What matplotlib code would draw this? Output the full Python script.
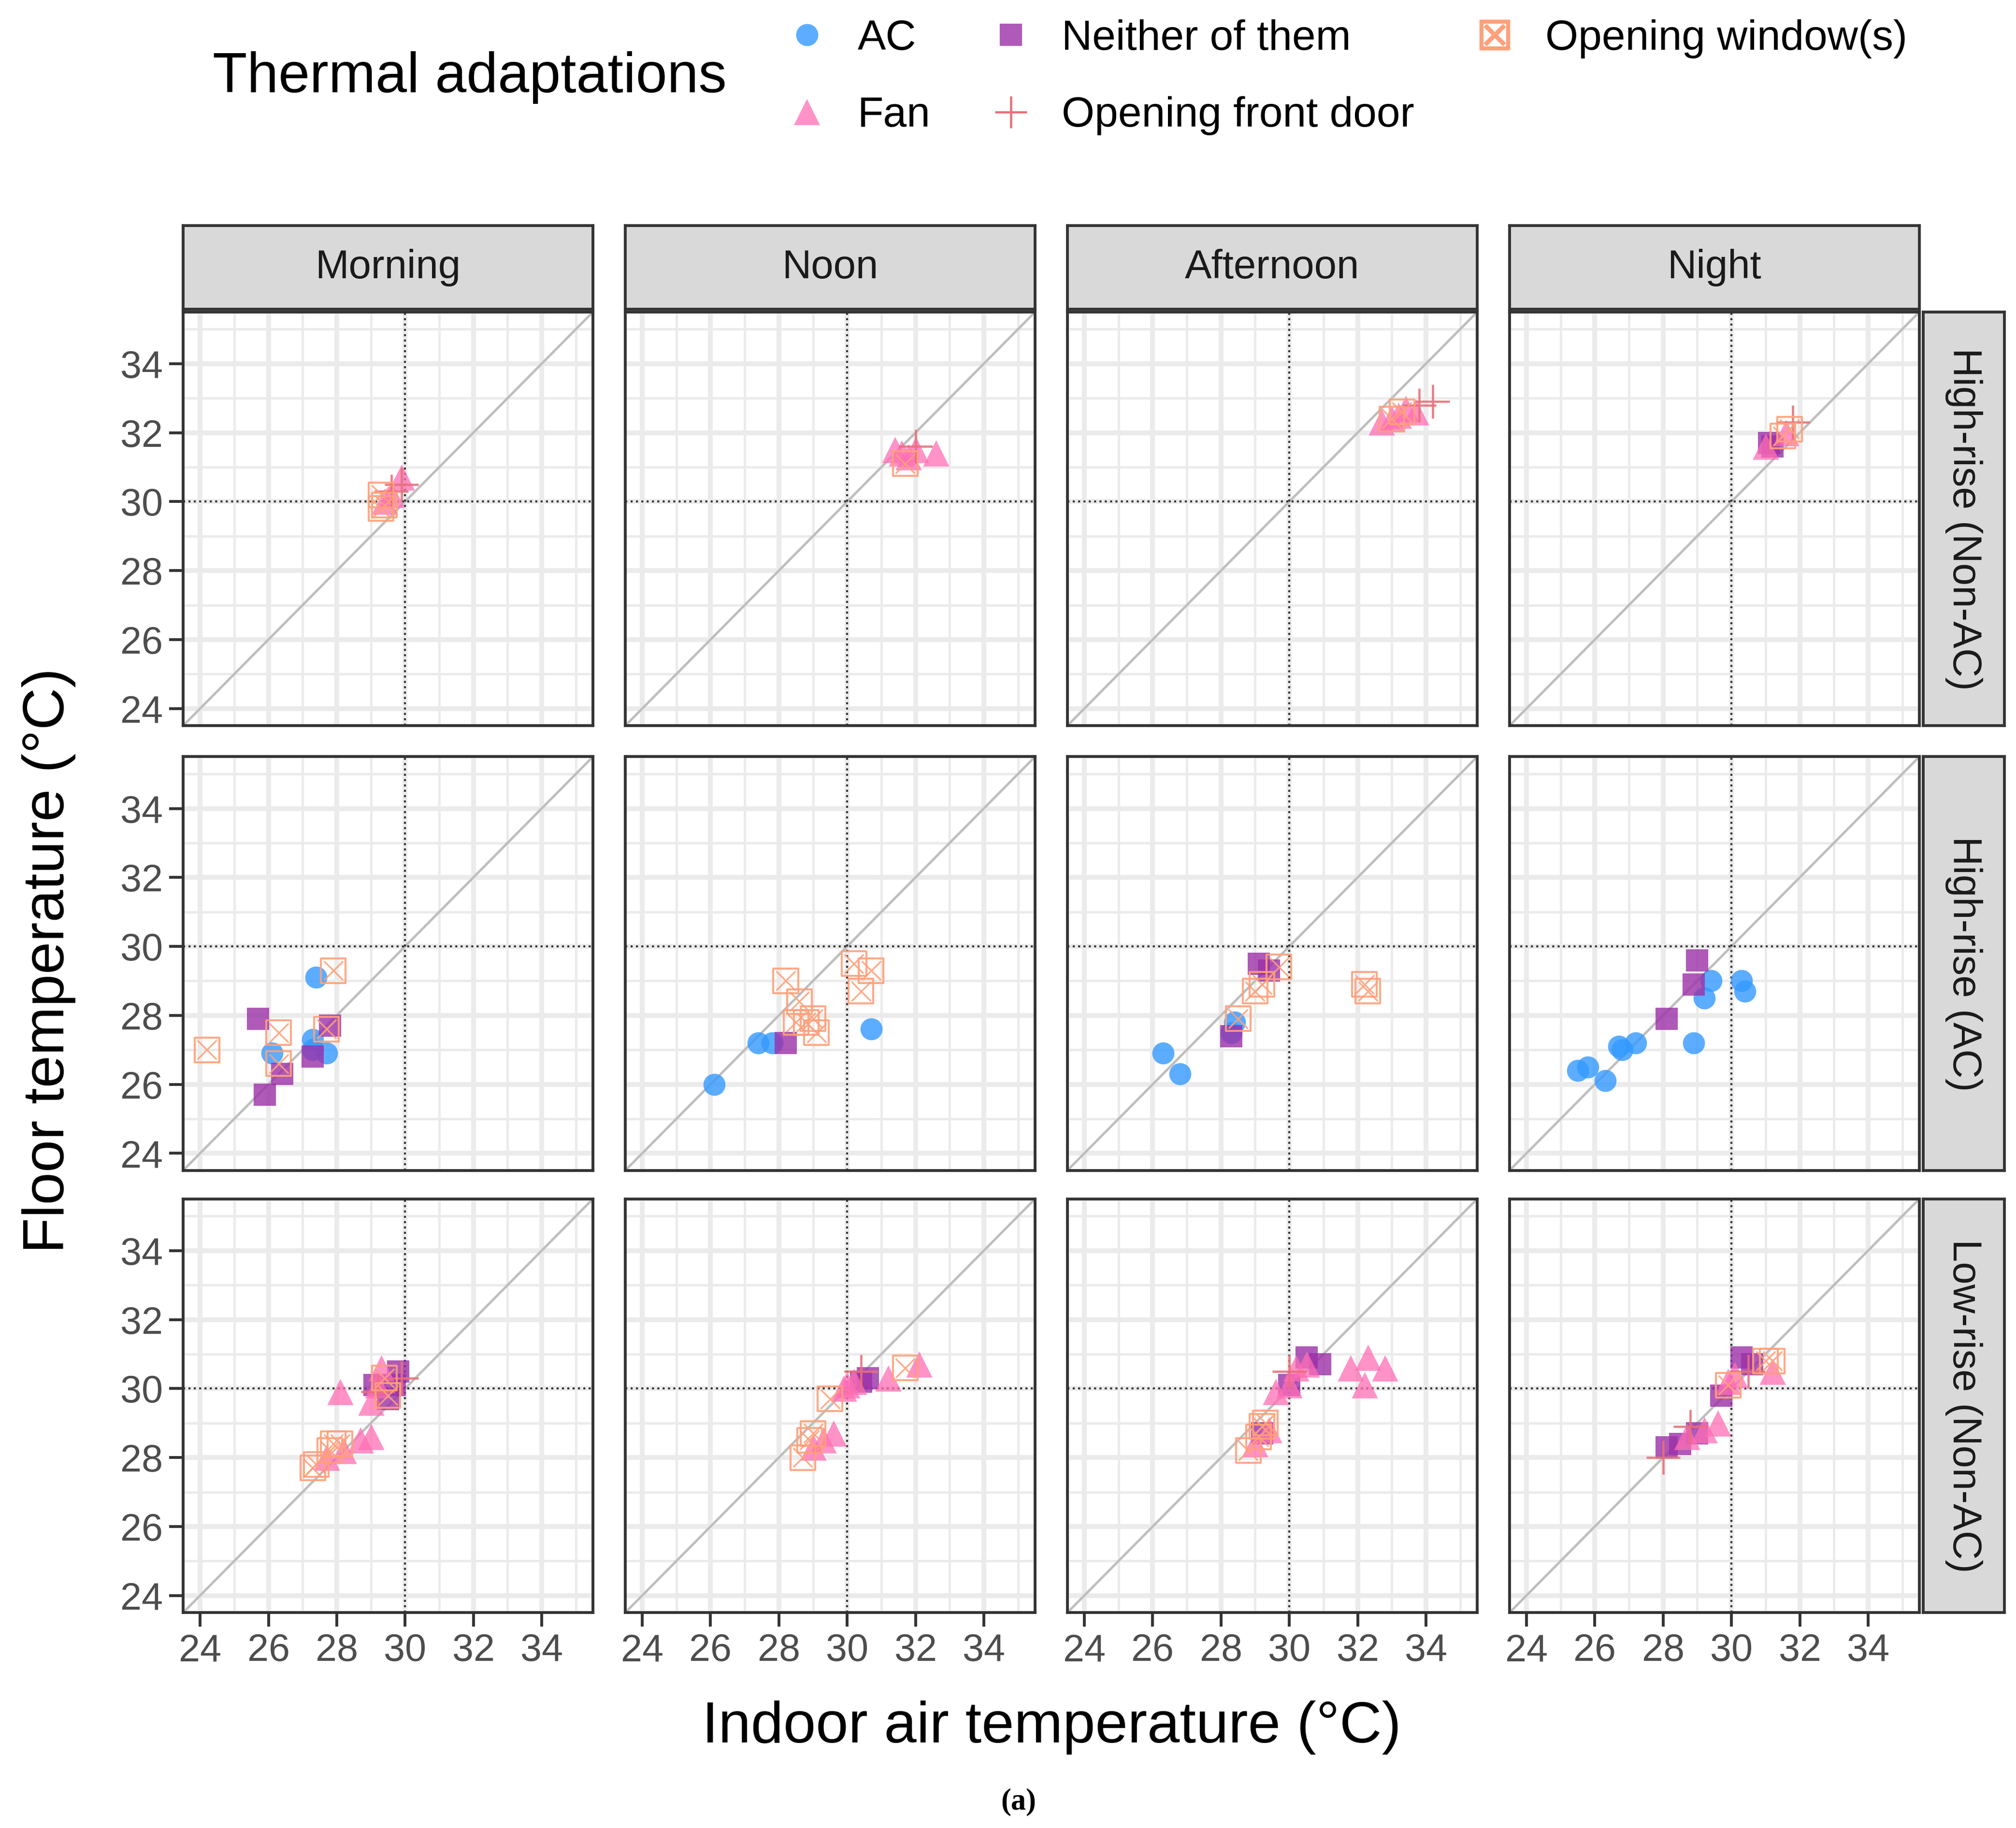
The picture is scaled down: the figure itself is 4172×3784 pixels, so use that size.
import numpy as np
import matplotlib
matplotlib.use("Agg")
import matplotlib.pyplot as plt
from matplotlib.lines import Line2D

plt.rcParams['font.family'] = ['Liberation Sans', 'DejaVu Sans']

periods = ['Morning', 'Noon', 'Afternoon', 'Night']
rows = ['High-rise (Non-AC)', 'High-rise (AC)', 'Low-rise (Non-AC)']

# (period, indoor air temp, floor temp)
hna_fan = [('Morning', 29.9, 30.7), ('Morning', 29.6, 30.2), ('Morning', 29.4, 30.0),
           ('Noon', 31.6, 31.4), ('Noon', 32.0, 31.5), ('Noon', 32.6, 31.4), ('Noon', 31.8, 31.3), ('Noon', 31.4, 31.5),
           ('Afternoon', 32.7, 32.3), ('Afternoon', 33.0, 32.4), ('Afternoon', 33.4, 32.7), ('Afternoon', 33.7, 32.6), ('Afternoon', 33.2, 32.5),
           ('Night', 31.0, 31.6), ('Night', 31.6, 32.0)]
hna_window = [('Morning', 29.3, 30.2), ('Morning', 29.4, 29.9), ('Morning', 29.3, 29.8),
              ('Noon', 31.7, 31.1),
              ('Afternoon', 33.0, 32.4), ('Afternoon', 33.3, 32.6),
              ('Night', 31.5, 31.9), ('Night', 31.7, 32.1)]
hna_door = [('Morning', 29.9, 30.5), ('Morning', 29.6, 30.3), ('Noon', 32.0, 31.6),
            ('Afternoon', 34.2, 32.9), ('Afternoon', 33.8, 32.8), ('Night', 31.8, 32.3)]
hna_neither = [('Night', 31.1, 31.7), ('Night', 31.2, 31.6)]
hna_ac = []

hac_ac = [('Morning', 27.4, 29.1), ('Morning', 26.1, 26.9), ('Morning', 27.3, 27.3), ('Morning', 27.7, 26.9), ('Morning', 27.3, 27.0),
          ('Noon', 26.1, 26.0), ('Noon', 27.4, 27.2), ('Noon', 27.8, 27.2), ('Noon', 30.7, 27.6),
          ('Afternoon', 26.3, 26.9), ('Afternoon', 26.8, 26.3), ('Afternoon', 28.4, 27.8), ('Afternoon', 28.3, 27.5),
          ('Night', 25.5, 26.4), ('Night', 25.8, 26.5), ('Night', 26.3, 26.1), ('Night', 26.7, 27.1), ('Night', 26.8, 27.0),
          ('Night', 27.2, 27.2), ('Night', 28.9, 27.2), ('Night', 29.2, 28.5), ('Night', 29.4, 29.0), ('Night', 30.3, 29.0), ('Night', 30.4, 28.7)]
hac_neither = [('Morning', 25.7, 27.9), ('Morning', 27.3, 26.8), ('Morning', 27.8, 27.7), ('Morning', 26.4, 26.3), ('Morning', 25.9, 25.7),
               ('Noon', 28.2, 27.2),
               ('Afternoon', 28.3, 27.4), ('Afternoon', 29.1, 29.5), ('Afternoon', 29.4, 29.3),
               ('Night', 28.1, 27.9), ('Night', 28.9, 28.9), ('Night', 29.0, 29.6)]
hac_window = [('Morning', 24.2, 27.0), ('Morning', 27.9, 29.3), ('Morning', 26.3, 27.5), ('Morning', 27.7, 27.6), ('Morning', 26.3, 26.6),
              ('Noon', 28.2, 29.0), ('Noon', 28.6, 28.4), ('Noon', 28.5, 27.8), ('Noon', 28.8, 27.8), ('Noon', 29.0, 27.9),
              ('Noon', 29.1, 27.5), ('Noon', 30.2, 29.5), ('Noon', 30.7, 29.3), ('Noon', 30.4, 28.7),
              ('Afternoon', 28.5, 27.9), ('Afternoon', 29.0, 28.7), ('Afternoon', 29.2, 28.9), ('Afternoon', 29.7, 29.4),
              ('Afternoon', 32.2, 28.9), ('Afternoon', 32.3, 28.7)]
hac_fan = []
hac_door = []

lr_window = [('Morning', 27.3, 27.7), ('Morning', 27.4, 27.8), ('Morning', 27.8, 28.2), ('Morning', 27.9, 28.4), ('Morning', 28.1, 28.4),
             ('Morning', 29.4, 30.3), ('Morning', 29.5, 29.8),
             ('Noon', 28.7, 28.0), ('Noon', 28.9, 28.5), ('Noon', 29.0, 28.7), ('Noon', 29.5, 29.7), ('Noon', 31.7, 30.6),
             ('Afternoon', 28.8, 28.2), ('Afternoon', 29.1, 28.6), ('Afternoon', 29.3, 29.0), ('Afternoon', 29.2, 28.9),
             ('Night', 29.9, 30.1), ('Night', 31.0, 30.8), ('Night', 31.2, 30.8)]
lr_fan = [('Morning', 27.7, 28.0), ('Morning', 28.2, 28.2), ('Morning', 28.7, 28.5), ('Morning', 29.0, 28.6), ('Morning', 28.1, 29.9),
          ('Morning', 29.0, 29.6), ('Morning', 29.3, 30.6), ('Morning', 29.2, 30.1),
          ('Noon', 29.0, 28.3), ('Noon', 29.3, 28.5), ('Noon', 29.6, 28.7), ('Noon', 29.9, 30.0), ('Noon', 30.0, 30.1),
          ('Noon', 31.2, 30.3), ('Noon', 32.1, 30.7), ('Noon', 30.2, 30.2),
          ('Afternoon', 29.0, 28.4), ('Afternoon', 29.4, 28.8), ('Afternoon', 29.6, 29.9), ('Afternoon', 30.2, 30.6),
          ('Afternoon', 30.5, 30.7), ('Afternoon', 31.8, 30.6), ('Afternoon', 32.2, 30.1), ('Afternoon', 32.3, 30.9),
          ('Afternoon', 32.8, 30.6), ('Afternoon', 30.0, 30.1),
          ('Night', 28.7, 28.6), ('Night', 29.2, 28.8), ('Night', 29.6, 29.0), ('Night', 29.9, 30.2), ('Night', 30.1, 30.4), ('Night', 31.2, 30.5)]
lr_neither = [('Morning', 29.8, 30.5), ('Morning', 29.1, 30.1), ('Morning', 29.5, 29.7), ('Morning', 29.7, 30.1),
              ('Noon', 30.4, 30.2), ('Noon', 30.6, 30.3),
              ('Afternoon', 29.2, 28.7), ('Afternoon', 30.0, 30.1), ('Afternoon', 30.5, 30.9), ('Afternoon', 30.9, 30.7),
              ('Night', 28.1, 28.3), ('Night', 28.5, 28.4), ('Night', 29.0, 28.7), ('Night', 29.7, 29.8), ('Night', 30.3, 30.9), ('Night', 30.6, 30.7)]
lr_door = [('Morning', 29.9, 30.3), ('Morning', 29.2, 29.9), ('Noon', 30.4, 30.5), ('Afternoon', 30.0, 30.5),
           ('Night', 28.0, 28.0), ('Night', 28.8, 28.9), ('Night', 30.5, 30.5)]
lr_ac = []

row_data = [
    {'AC': hna_ac, 'Neither of them': hna_neither, 'Fan': hna_fan, 'Opening front door': hna_door, 'Opening window(s)': hna_window},
    {'AC': hac_ac, 'Neither of them': hac_neither, 'Fan': hac_fan, 'Opening front door': hac_door, 'Opening window(s)': hac_window},
    {'AC': lr_ac, 'Neither of them': lr_neither, 'Fan': lr_fan, 'Opening front door': lr_door, 'Opening window(s)': lr_window},
]

c_ac = '#3399FF'
c_nei = '#9B30A8'
c_fan = '#FF6EB4'
c_door = '#E8707A'
c_win = '#FFA07A'

styles = {
    'AC': dict(marker='o', color=c_ac, s=120, alpha=0.8, linewidths=0),
    'Neither of them': dict(marker='s', color=c_nei, s=120, alpha=0.8, linewidths=0),
    'Fan': dict(marker='^', color=c_fan, s=170, alpha=0.75, linewidths=0),
    'Opening front door': dict(marker='+', color=c_door, s=280, alpha=0.9, linewidths=1.1),
}

W, H = 4172 / 300, 3784 / 300
fig = plt.figure(figsize=(W, H), dpi=300)
DW, DH = 1564.0, 1418.0
col_left = [142, 485, 828, 1171]
row_top = [242, 587, 930]
pw, ph = 318, 321

def fr(x0, y0, w, h):
    return [x0 / DW, 1 - (y0 + h) / DH, w / DW, h / DH]

grid_c = '#EBEBEB'
for r in range(3):
    for c in range(4):
        ax = fig.add_axes(fr(col_left[c], row_top[r], pw, ph))
        ax.set_xlim(23.5, 35.5)
        ax.set_ylim(23.5, 35.5)
        ax.set_xticks(np.arange(24, 35, 2))
        ax.set_yticks(np.arange(24, 35, 2))
        ax.set_xticks(np.arange(25, 36, 2), minor=True)
        ax.set_yticks(np.arange(25, 36, 2), minor=True)
        ax.grid(which='major', color=grid_c, lw=2.4, zorder=0)
        ax.grid(which='minor', color=grid_c, lw=1.2, zorder=0)
        ax.set_axisbelow(True)
        ax.tick_params(which='minor', length=0)
        ax.tick_params(which='major', length=7, width=1.4, color='#333333', labelsize=19,
                       labelcolor='#4D4D4D', pad=3)
        if c > 0:
            ax.tick_params(axis='y', labelleft=False, length=0)
        if r < 2:
            ax.tick_params(axis='x', labelbottom=False, length=0)
        for sp in ax.spines.values():
            sp.set_color('#333333')
            sp.set_linewidth(1.4)
        ax.plot([23.5, 35.5], [23.5, 35.5], color='#BEBEBE', lw=1.2, zorder=1)
        ax.axvline(30, color='#333333', ls=':', lw=1.0, zorder=1)
        ax.axhline(30, color='#333333', ls=':', lw=1.0, zorder=1)
        p = periods[c]
        d = row_data[r]
        for key in ['AC', 'Neither of them', 'Fan', 'Opening front door']:
            pts = [(x, y) for (pp, x, y) in d[key] if pp == p]
            if pts:
                xs, ys = zip(*pts)
                ax.scatter(xs, ys, zorder=3, **styles[key])
        pts = [(x, y) for (pp, x, y) in d['Opening window(s)'] if pp == p]
        if pts:
            xs, ys = zip(*pts)
            ax.scatter(xs, ys, marker='s', facecolors='none', edgecolors=c_win, s=150, linewidths=1.0, alpha=0.9, zorder=4)
            ax.scatter(xs, ys, marker='x', color=c_win, s=90, linewidths=0.8, alpha=0.9, zorder=4)
        if r == 0:
            sax = fig.add_axes(fr(col_left[c], 175, pw, 65))
            sax.set_xticks([]); sax.set_yticks([])
            sax.set_facecolor('#D9D9D9')
            for sp in sax.spines.values():
                sp.set_color('#333333'); sp.set_linewidth(1.4)
            sax.text(0.5, 0.5, p, ha='center', va='center', fontsize=20, color='#1A1A1A', transform=sax.transAxes)
        if c == 3:
            sax = fig.add_axes(fr(1492, row_top[r], 63, ph))
            sax.set_xticks([]); sax.set_yticks([])
            sax.set_facecolor('#D9D9D9')
            for sp in sax.spines.values():
                sp.set_color('#333333'); sp.set_linewidth(1.4)
            sax.text(0.5, 0.5, rows[r], ha='center', va='center', rotation=-90, fontsize=20,
                     color='#1A1A1A', transform=sax.transAxes)

fig.text(816 / DW, 1 - 1340 / DH, 'Indoor air temperature (°C)', ha='center', va='center', fontsize=29)
fig.text(38 / DW, 1 - 745 / DH, 'Floor temperature (°C)', ha='center', va='center', rotation=90, fontsize=29)
fig.text(790 / DW, 1 - 1398 / DH, '(a)', ha='center', va='center', fontsize=15, fontweight='bold',
         family=['Liberation Serif', 'DejaVu Serif'])

fig.text(165 / DW, 1 - 60 / DH, 'Thermal adaptations', ha='left', va='center', fontsize=28)
handles = [
    Line2D([], [], ls='none', marker='o', color=c_ac, ms=11, alpha=0.8, mew=0),
    Line2D([], [], ls='none', marker='^', color=c_fan, ms=13, alpha=0.75, mew=0),
    Line2D([], [], ls='none', marker='s', color=c_nei, ms=11, alpha=0.8, mew=0),
    Line2D([], [], ls='none', marker='+', color=c_door, ms=16, mew=1.1),
    Line2D([], [], ls='none', marker='$\\boxtimes$', color=c_win, ms=15, mew=0.3),
]
labels = ['AC', 'Fan', 'Neither of them', 'Opening front door', 'Opening window(s)']
fig.legend(handles, labels, ncol=3, loc='center left', bbox_to_anchor=(580 / DW, 1 - 60 / DH),
           frameon=False, fontsize=21, handlelength=1.0, handletextpad=0.7, columnspacing=1.4,
           labelspacing=0.9)

fig.savefig('out.png', dpi=300, facecolor='white')
